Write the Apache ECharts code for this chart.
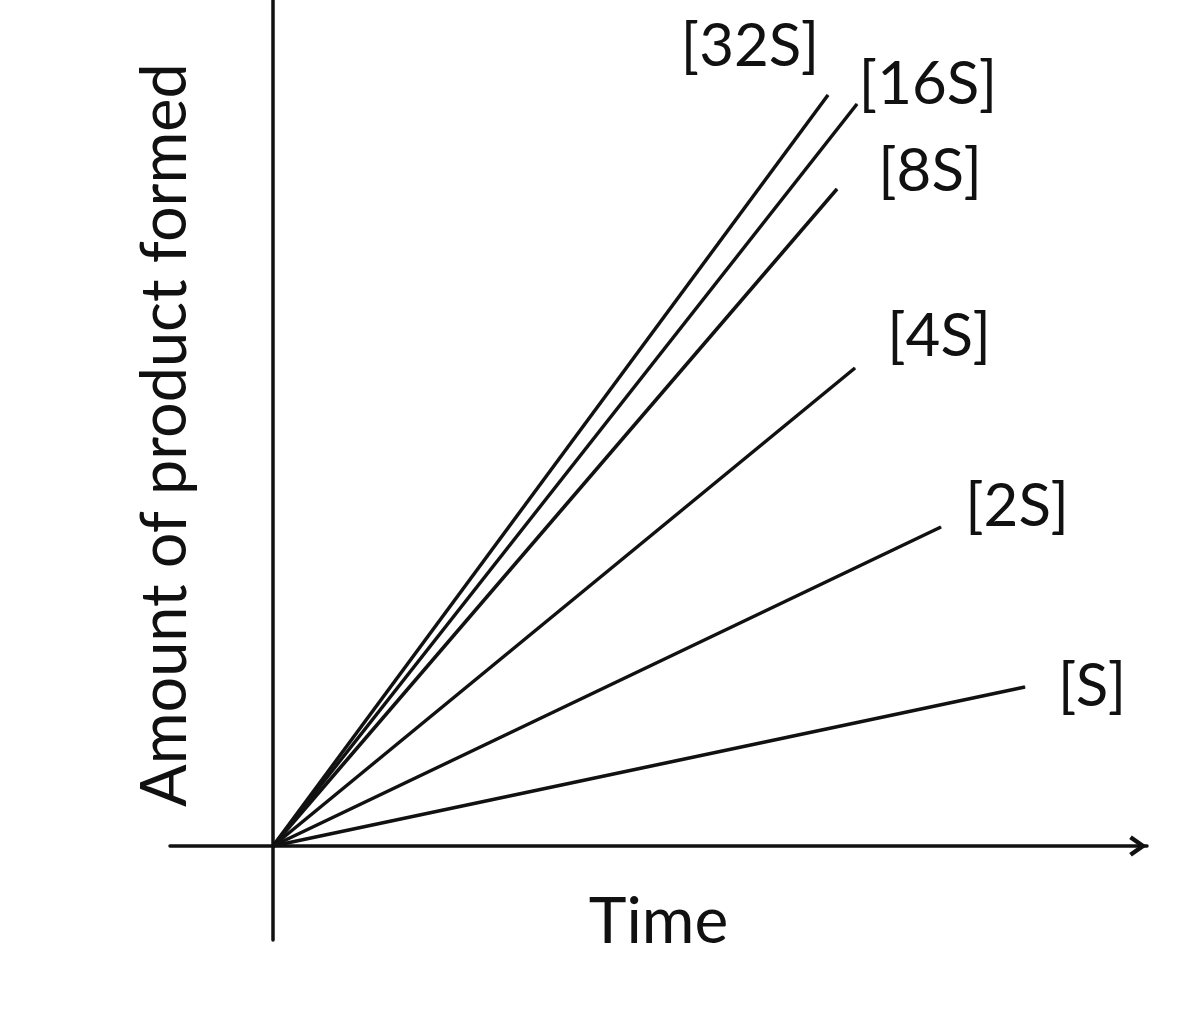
<!DOCTYPE html>
<html>
<head>
<meta charset="utf-8">
<script src="https://cdn.jsdelivr.net/npm/echarts@6/dist/echarts.min.js"></script>
<style>
  html, body { margin: 0; padding: 0; background: #fff; }
  #main { width: 1202px; height: 1024px; }
</style>
</head>
<body>
<div id="main"></div>
<script>
// substrate concentrations, one line each
var seriesNames = ['[32S]', '[16S]', '[8S]', '[4S]', '[2S]', '[S]'];
// end of each line (start is the origin)
var endTime = [5.55, 5.84, 5.64, 5.82, 6.68, 7.52];
var endAmount = [7.51, 7.42, 6.57, 4.78, 3.19, 1.59];

// where each label sits relative to the line end (px)
var labelOffset = [[-78, -48], [71, -19], [93, -17], [84, -31], [76, -20], [67, 0]];

var myChart = echarts.init(document.getElementById('main'));

var series = seriesNames.map(function (name, i) {
  return {
    name: name,
    type: 'line',
    symbol: 'circle',
    symbolSize: 1,
    itemStyle: { color: '#111' },
    lineStyle: { color: '#111', width: 3.5 },
    silent: true,
    data: [
      [0, 0],
      {
        value: [endTime[i], endAmount[i]],
        label: {
          show: true,
          position: 'inside',
          offset: labelOffset[i],
          formatter: name,
          fontFamily: 'Lato',
          fontSize: 60,
          color: '#111'
        }
      }
    ]
  };
});

myChart.setOption({
  animation: false,
  grid: { left: 170, right: 55, top: 0, bottom: 84, outerBoundsMode: 'none' },
  xAxis: {
    type: 'value',
    min: -1.03,
    max: 8.74,
    name: 'Time',
    nameLocation: 'middle',
    nameGap: -50,
    nameTextStyle: { fontFamily: 'Lato', fontSize: 64, color: '#111' },
    axisLine: {
      onZero: true,
      lineStyle: { color: '#111', width: 3.5 },
      symbol: ['none', 'path://M10.5,0 L21,15 L17.6,17.6 L10.5,7.5 L3.4,17.6 L0,15 Z'],
      symbolSize: [21, 18],
      symbolOffset: [0, -9]
    },
    axisTick: { show: false },
    axisLabel: { show: false },
    splitLine: { show: false }
  },
  yAxis: {
    type: 'value',
    min: -0.94,
    max: 8.46,
    name: 'Amount of product formed',
    nameLocation: 'middle',
    nameRotate: 90,
    nameGap: -27,
    nameTextStyle: { fontFamily: 'Lato', fontSize: 63, color: '#111', padding: [0, 0, 0, 70] },
    axisLine: { onZero: true, lineStyle: { color: '#111', width: 3.5 } },
    axisTick: { show: false },
    axisLabel: { show: false },
    splitLine: { show: false }
  },
  series: series
});
</script>
</body>
</html>
